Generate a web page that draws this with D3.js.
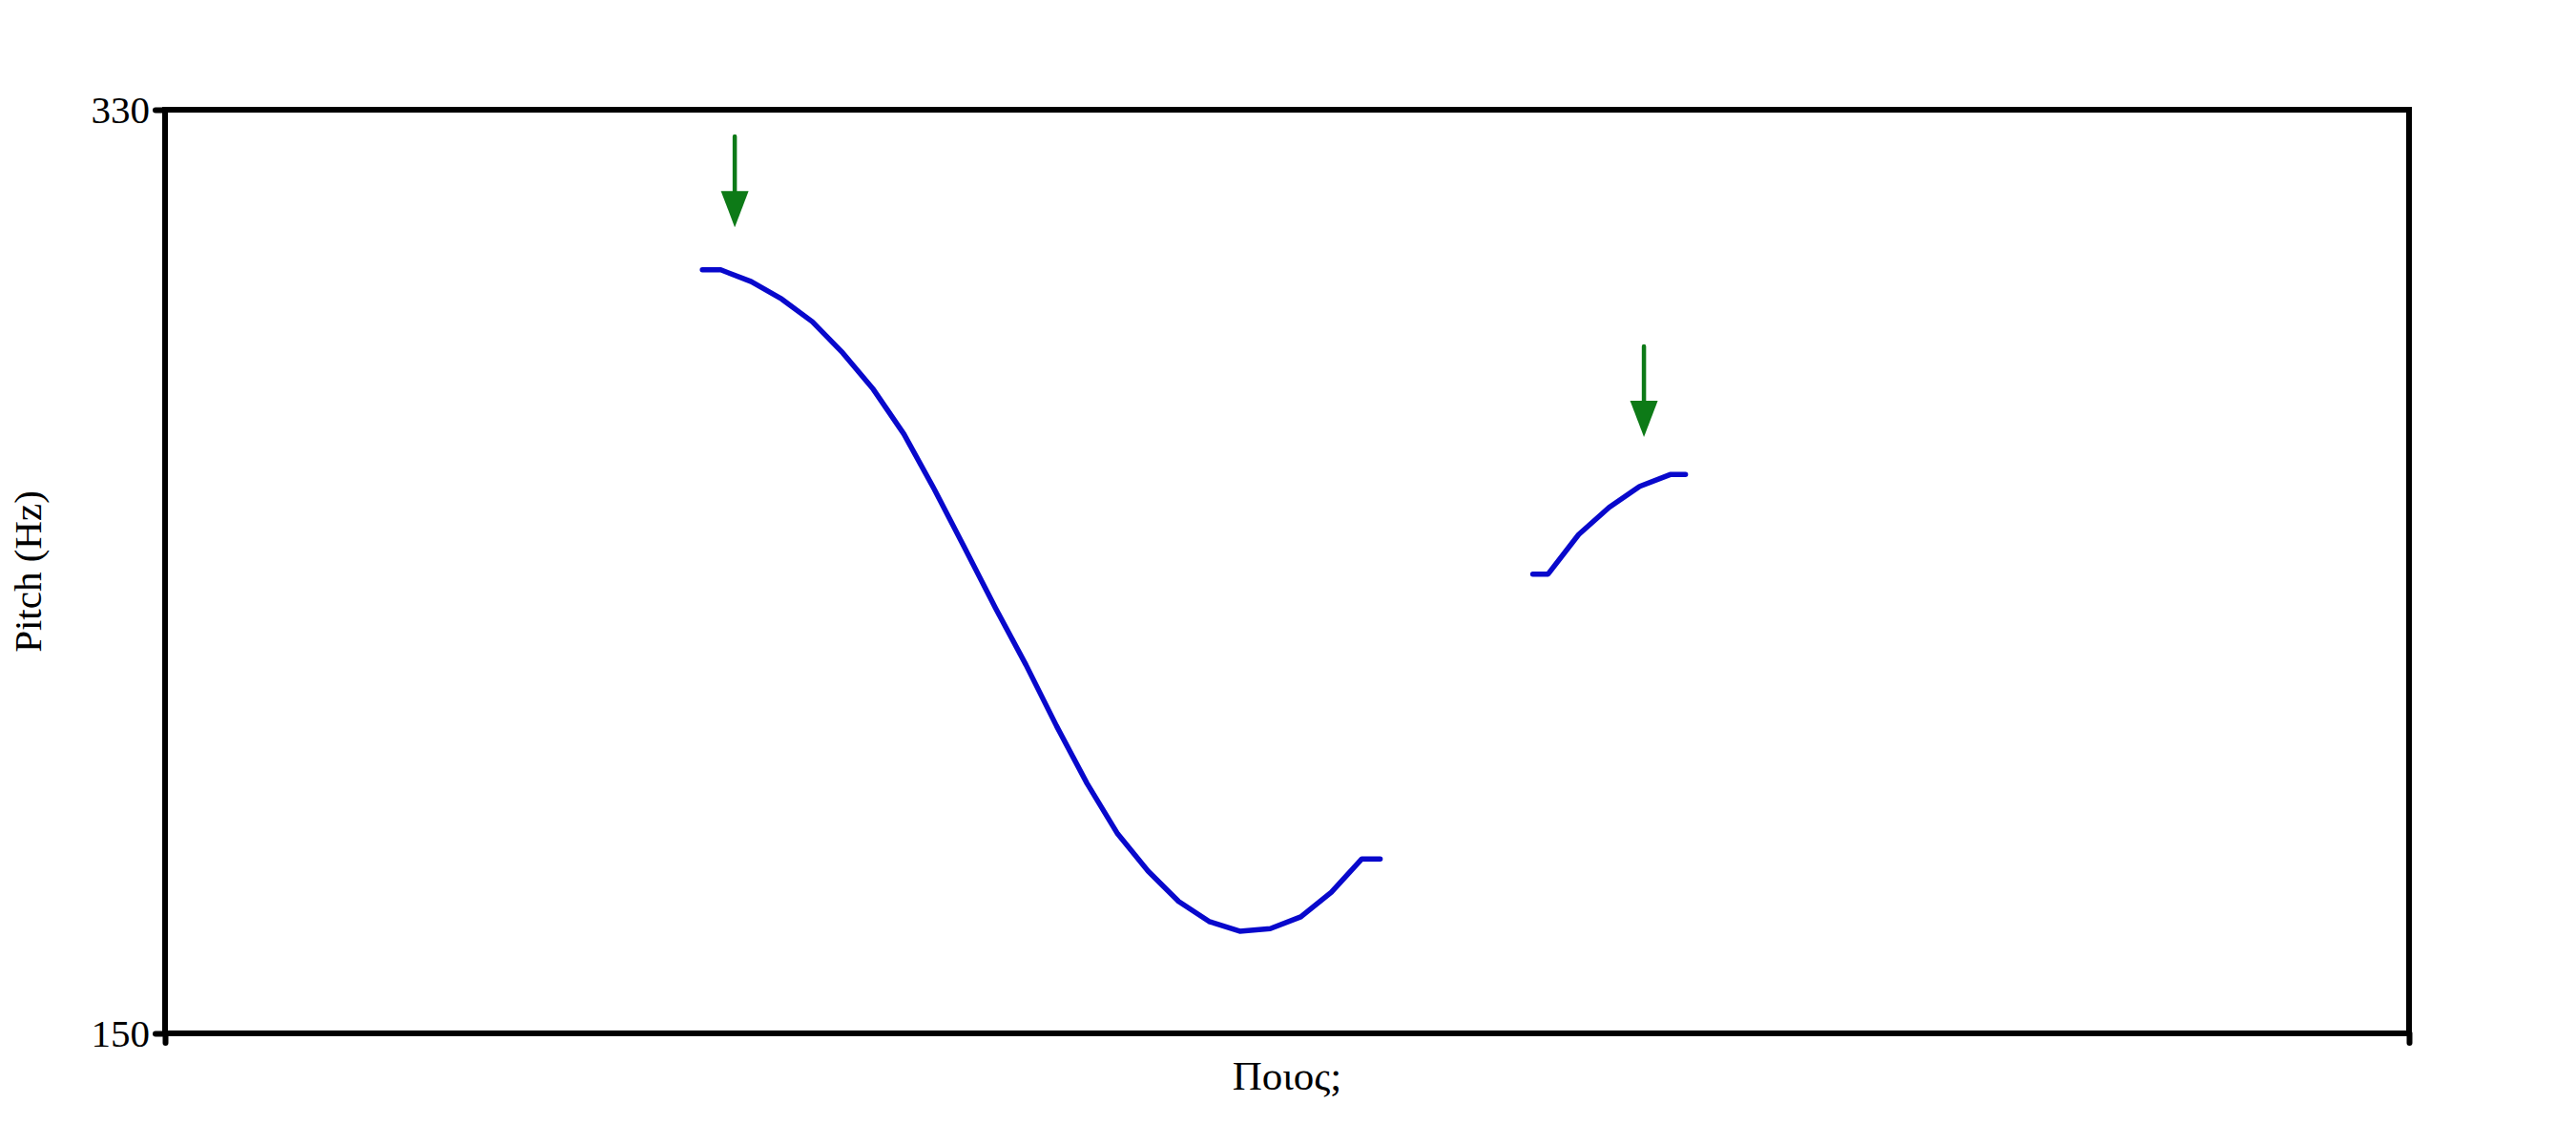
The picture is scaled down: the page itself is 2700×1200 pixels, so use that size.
<!DOCTYPE html>
<html>
<head>
<meta charset="utf-8">
<script src="https://cdn.jsdelivr.net/npm/d3@7"></script>
<style>
  html, body { margin: 0; padding: 0; background: #fff; }
  svg { display: block; }
</style>
</head>
<body>
<div id="chart"></div>
<script>
// ---- Data (time in seconds, pitch in Hz) ----
const yTickValues = [150, 330];
const xLabel = "Ποιος;";
const yLabel = "Pitch (Hz)";

const seg1Time = [0.176, 0.182, 0.192, 0.202, 0.212, 0.222, 0.232, 0.242, 0.252, 0.262, 0.272,
                  0.282, 0.292, 0.302, 0.312, 0.322, 0.332, 0.342, 0.352, 0.362, 0.372, 0.382, 0.392, 0.398];
const seg1Pitch = [298.8, 298.8, 296.5, 293.1, 288.7, 282.6, 275.5, 266.8, 256.0, 244.5, 232.9,
                   221.8, 209.9, 198.7, 188.9, 181.6, 175.7, 171.8, 169.9, 170.4, 172.7, 177.5, 184.0, 184.0];

const seg2Time = [0.448, 0.453, 0.463, 0.473, 0.483, 0.493, 0.498];
const seg2Pitch = [239.5, 239.5, 247.2, 252.5, 256.6, 258.9, 258.9];

// arrows: time, start pitch (tail), end pitch (tip)
const arrowTime = [0.1866, 0.4844];
const arrowFrom = [324.8, 283.9];
const arrowTo = [307.1, 266.2];

// ---- Layout ----
const W = 2700, H = 1200;
const mLeft = 173, mRight = 2525, mTop = 115, mBottom = 1083;

const svg = d3.select("#chart").append("svg")
  .attr("width", W).attr("height", H)
  .style("font-family", "'Liberation Serif', 'Times New Roman', serif");

const x = d3.scaleLinear().domain([0, 0.735]).range([mLeft, mRight]);
const y = d3.scaleLinear().domain([150, 330]).range([mBottom, mTop]);

// frame
svg.append("rect")
  .attr("x", mLeft).attr("y", mTop)
  .attr("width", mRight - mLeft).attr("height", mBottom - mTop)
  .attr("fill", "none").attr("stroke", "#000").attr("stroke-width", 6);

// y axis
const yAxis = svg.append("g")
  .attr("transform", `translate(${mLeft},0)`)
  .call(d3.axisLeft(y).tickValues(yTickValues).tickSize(10).tickPadding(6).tickFormat(d3.format("d")));
yAxis.select(".domain").remove();
yAxis.selectAll(".tick line").attr("stroke", "#000").attr("stroke-width", 6).attr("stroke-linecap", "round");
yAxis.selectAll(".tick text").attr("font-size", 41).attr("fill", "#000")
  .attr("font-family", "'Liberation Serif', 'Times New Roman', serif");

// x axis (ticks only, at the ends)
const xAxis = svg.append("g")
  .attr("transform", `translate(0,${mBottom})`)
  .call(d3.axisBottom(x).tickValues(x.domain()).tickSize(10).tickFormat(""));
xAxis.select(".domain").remove();
xAxis.selectAll(".tick line").attr("stroke", "#000").attr("stroke-width", 6).attr("stroke-linecap", "round");

// labels
svg.append("text")
  .attr("x", (mLeft + mRight) / 2).attr("y", 1142)
  .attr("text-anchor", "middle").attr("font-size", 43).attr("fill", "#000")
  .text(xLabel);

svg.append("text")
  .attr("transform", `translate(43,${(mTop + mBottom) / 2}) rotate(-90)`)
  .attr("text-anchor", "middle").attr("font-size", 41).attr("fill", "#000")
  .text(yLabel);

// pitch contour
const line = d3.line().x(d => x(d[0])).y(d => y(d[1]));
const segments = [
  d3.zip(seg1Time, seg1Pitch),
  d3.zip(seg2Time, seg2Pitch)
];
svg.selectAll("path.pitch").data(segments).join("path")
  .attr("class", "pitch")
  .attr("d", line)
  .attr("fill", "none")
  .attr("stroke", "#0808cc")
  .attr("stroke-width", 5.5)
  .attr("stroke-linecap", "round")
  .attr("stroke-linejoin", "round");

// arrows
const green = "#0d7a17";
const headLen = 38, headHalf = 14.5;
const arrows = d3.zip(arrowTime, arrowFrom, arrowTo);
const ag = svg.selectAll("g.arrow").data(arrows).join("g").attr("class", "arrow");
ag.append("line")
  .attr("x1", d => x(d[0])).attr("x2", d => x(d[0]))
  .attr("y1", d => y(d[1])).attr("y2", d => y(d[2]) - headLen + 2)
  .attr("stroke", green).attr("stroke-width", 4.5).attr("stroke-linecap", "round");
ag.append("path")
  .attr("d", d => {
    const cx = x(d[0]), ty = y(d[2]);
    return `M${cx - headHalf},${ty - headLen} L${cx + headHalf},${ty - headLen} L${cx},${ty} Z`;
  })
  .attr("fill", green);
</script>
</body>
</html>
